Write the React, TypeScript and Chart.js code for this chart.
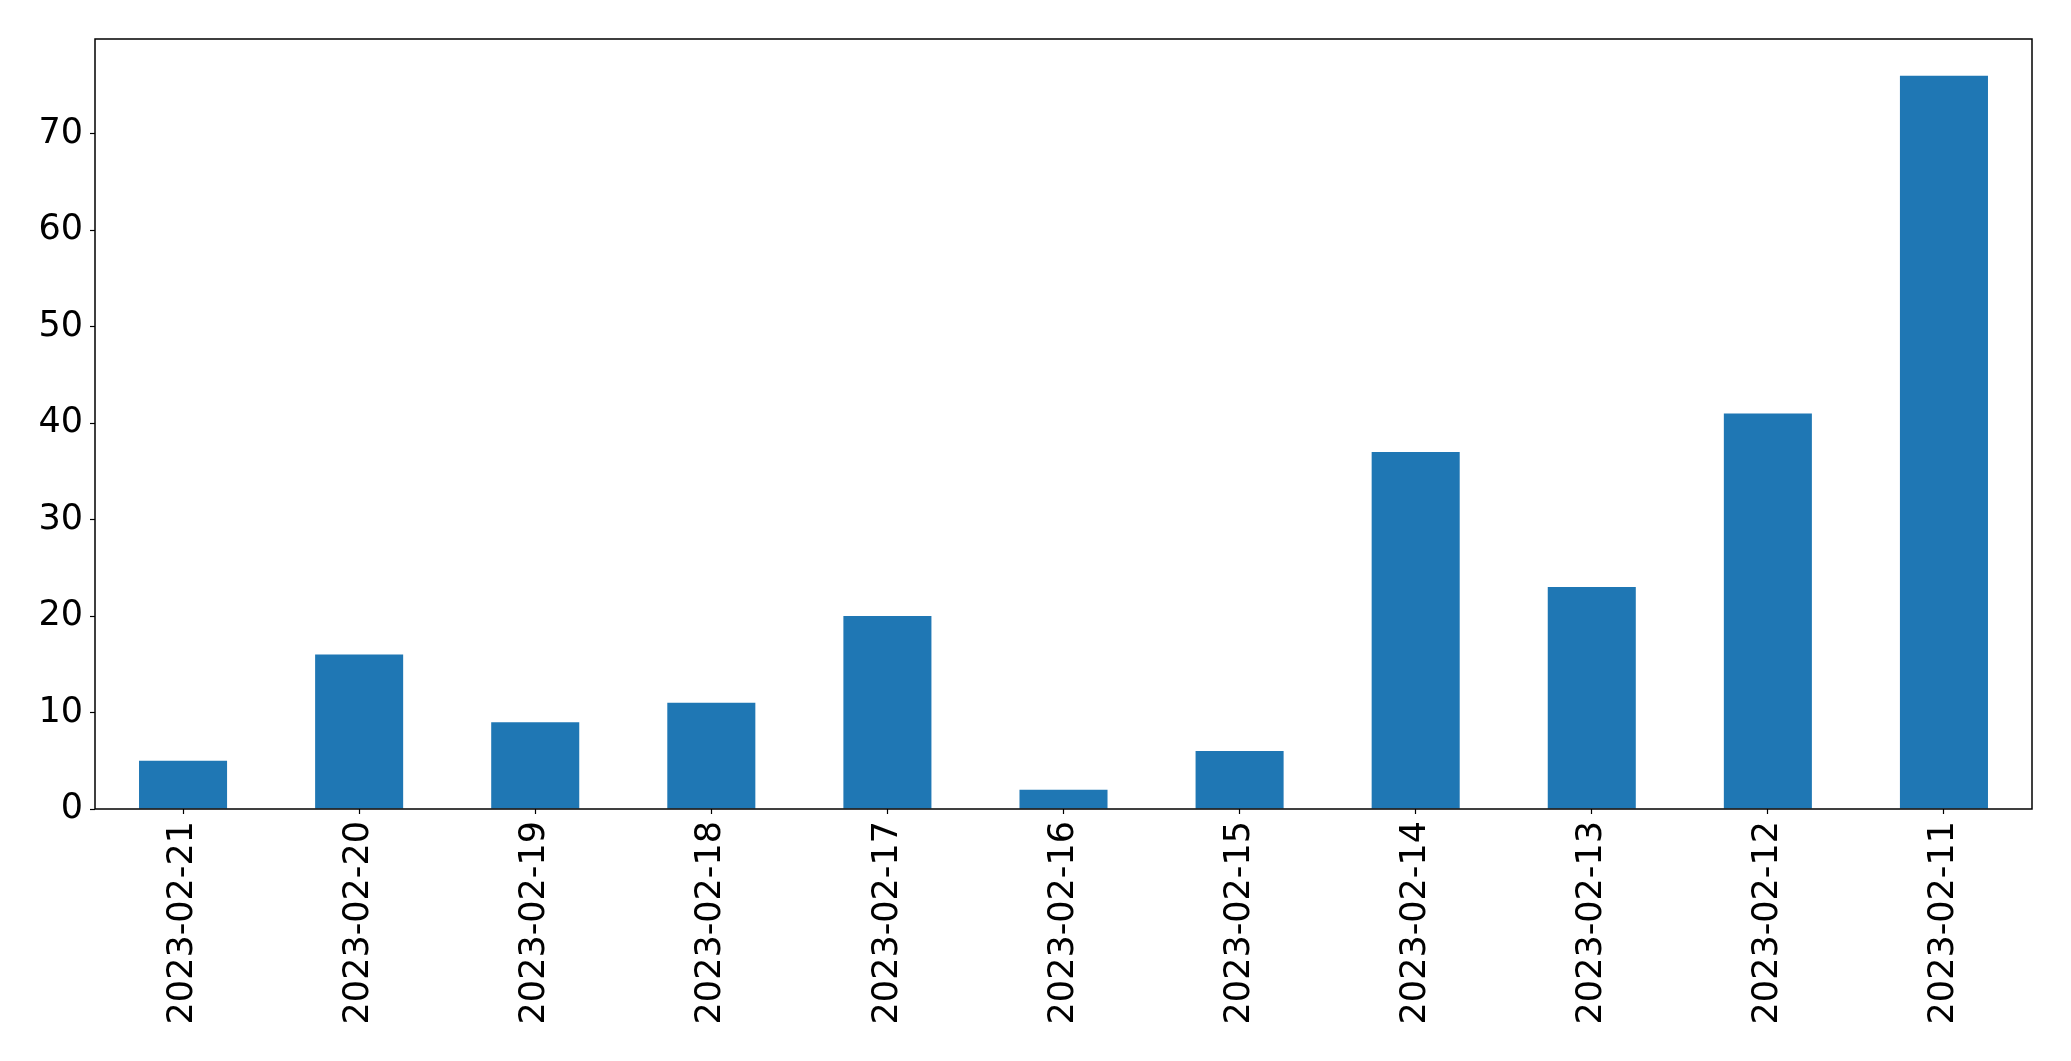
import React, { useEffect, useRef } from "react";
import { Chart, registerables } from "chart.js";

Chart.register(...registerables);

const categories: string[] = [
  "2023-02-21",
  "2023-02-20",
  "2023-02-19",
  "2023-02-18",
  "2023-02-17",
  "2023-02-16",
  "2023-02-15",
  "2023-02-14",
  "2023-02-13",
  "2023-02-12",
  "2023-02-11",
];
const counts: number[] = [5, 16, 9, 11, 20, 2, 6, 37, 23, 41, 76];
const yTicks: number[] = [0, 10, 20, 30, 40, 50, 60, 70];
const yMax = 79.8;

const W = 2071;
const H = 1061;
const FONT = "'DejaVu Sans', sans-serif";

const framePlugin = {
  id: "frame",
  afterDraw(chart: any) {
    const { ctx, chartArea } = chart;
    ctx.save();
    ctx.strokeStyle = "#000";
    ctx.lineWidth = 1.5;
    ctx.strokeRect(chartArea.left, chartArea.top, chartArea.right - chartArea.left, chartArea.bottom - chartArea.top);
    ctx.restore();
  },
};

export default function App() {
  const ref = useRef<HTMLCanvasElement | null>(null);
  useEffect(() => {
    document.body.style.margin = "0";
    const canvas = ref.current!;
    const chart = new Chart(canvas, {
      type: "bar",
      data: {
        labels: categories,
        datasets: [
          {
            data: counts,
            backgroundColor: "#1f77b4",
            borderWidth: 0,
            barPercentage: 0.5,
            categoryPercentage: 1,
          },
        ],
      },
      options: {
        responsive: false,
        animation: false,
        devicePixelRatio: 1,
        layout: { padding: { left: 0, top: 39, right: 39, bottom: 0 } },
        plugins: { legend: { display: false }, tooltip: { enabled: false } },
        scales: {
          x: {
            offset: true,
            grid: {
              display: true,
              offset: false,
              drawOnChartArea: false,
              drawTicks: true,
              tickLength: 5,
              tickWidth: 1.2,
              tickColor: "#000",
            },
            border: { display: false },
            ticks: {
              color: "#000",
              font: { family: FONT, size: 35 },
              maxRotation: 90,
              minRotation: 90,
              padding: 7,
              autoSkip: false,
            },
            afterFit(scale: any) {
              scale.height = H - 809;
            },
          },
          y: {
            min: 0,
            max: yMax,
            grid: {
              display: true,
              drawOnChartArea: false,
              drawTicks: true,
              tickLength: 5,
              tickWidth: 1.2,
              tickColor: "#000",
            },
            border: { display: false },
            ticks: {
              color: "#000",
              font: { family: FONT, size: 35 },
              padding: 7,
            },
            afterBuildTicks(scale: any) {
              scale.ticks = yTicks.map((v) => ({ value: v }));
            },
            afterFit(scale: any) {
              scale.width = 95;
            },
          },
        },
      },
      plugins: [framePlugin],
    });
    return () => chart.destroy();
  }, []);
  return (
    <div style={{ position: "fixed", left: 0, top: 0, width: W, height: H, background: "#fff" }}>
      <canvas ref={ref} width={W} height={H} style={{ width: W, height: H }} />
    </div>
  );
}
